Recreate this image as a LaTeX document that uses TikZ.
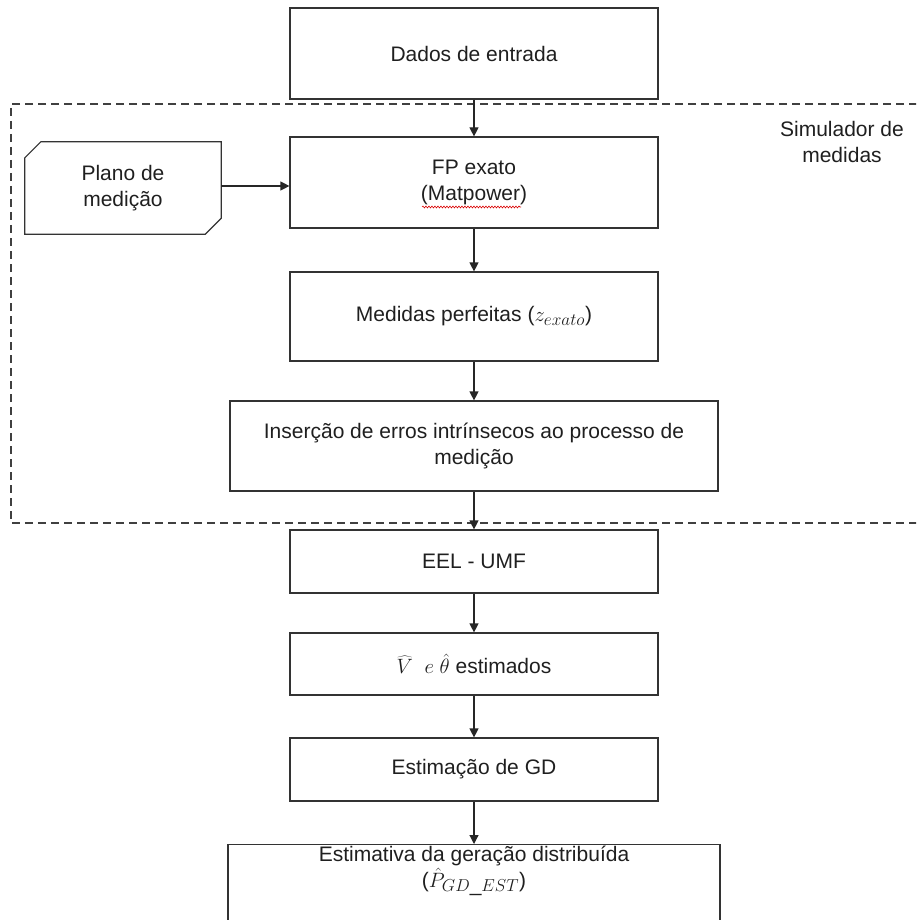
\documentclass[tikz,border=0pt]{standalone}
\usepackage{fontspec}
\setmainfont{Liberation Sans}
\DeclareMathSizes{21}{21}{16}{12}
\usetikzlibrary{arrows.meta,decorations.pathmorphing}
\tikzset{
  box/.style={draw=black!80, line width=1.2pt, rectangle, inner sep=0pt,
    align=center, font=\fontsize{21}{26}\selectfont, text=black!88},
  txt/.style={align=center, font=\fontsize{21}{26}\selectfont, text=black!88, inner sep=0pt},
  outline/.style={draw=black!80, line width=1.2pt},
  flow/.style={draw=black!85, line width=1.2pt, -{Triangle[length=9pt,width=9pt]}},
  frame/.style={draw=black!75, line width=1.2pt, dash pattern=on 8pt off 5pt},
  squiggle/.style={draw=red!85!black, line width=0.6pt, decorate,
    decoration={snake, amplitude=0.9pt, segment length=3pt}},
}
\begin{document}
\begin{tikzpicture}[x=1pt,y=-1pt]
\clip (0,0) rectangle (916,920);

% dashed frame of the measurement simulator (open on the right)
\draw[frame] (930,104) -- (11,104) -- (11,523) -- (930,523);
\node[txt] (sim) at (842,142) {Simulador de\\medidas};

% process boxes
\node[box, minimum width=368, minimum height=91] (dados) at (474,53.5) {Dados de entrada};
\node[box, minimum width=368, minimum height=91] (fp) at (474,182.5) {FP exato\\(Matpower)};
\node[box, minimum width=368, minimum height=89] (med) at (474,316.5) {Medidas perfeitas ($z_{exato}$)};
\node[box, minimum width=488, minimum height=90] (ins) at (474,446) {Inserção de erros intrínsecos ao processo de\\medição};
\node[box, minimum width=368, minimum height=63] (eel) at (474,561.5) {EEL - UMF};
\node[box, minimum width=368, minimum height=62] (vt) at (474,664) {$\widehat{V}\;\; e\; \hat{\theta}$ estimados};
\node[box, minimum width=368, minimum height=63] (gd) at (474,769.5) {Estimação de GD};
\node[box, minimum width=492, minimum height=100, anchor=north] (est) at (474,844) {};
\node[txt] (esttxt) at (474,871) {Estimativa da geração distribuída\\($\hat{P}_{GD\_EST}$)};

% measurement plan card with two cut corners
\node[txt, minimum width=196, minimum height=92] (plano) at (123,188) {Plano de\\medição};
\draw[outline] ([yshift=-16pt]plano.north west) -- ([xshift=16pt]plano.north west)
  -- (plano.north east) -- ([yshift=16pt]plano.south east)
  -- ([xshift=-16pt]plano.south east) -- (plano.south west) -- cycle;

% spell-check mark under Matpower
\draw[squiggle] (422,207) -- (521,207);

% connectors
\draw[flow] (dados.south) -- (fp.north);
\draw[flow] ([yshift=2pt]plano.east) -- ([yshift=2pt]plano.east -| fp.west);
\draw[flow] (fp.south) -- (med.north);
\draw[flow] (med.south) -- (ins.north);
\draw[flow] (ins.south) -- (eel.north);
\draw[flow] (eel.south) -- (vt.north);
\draw[flow] (vt.south) -- (gd.north);
\draw[flow] (gd.south) -- (est.north);
\end{tikzpicture}
\end{document}
